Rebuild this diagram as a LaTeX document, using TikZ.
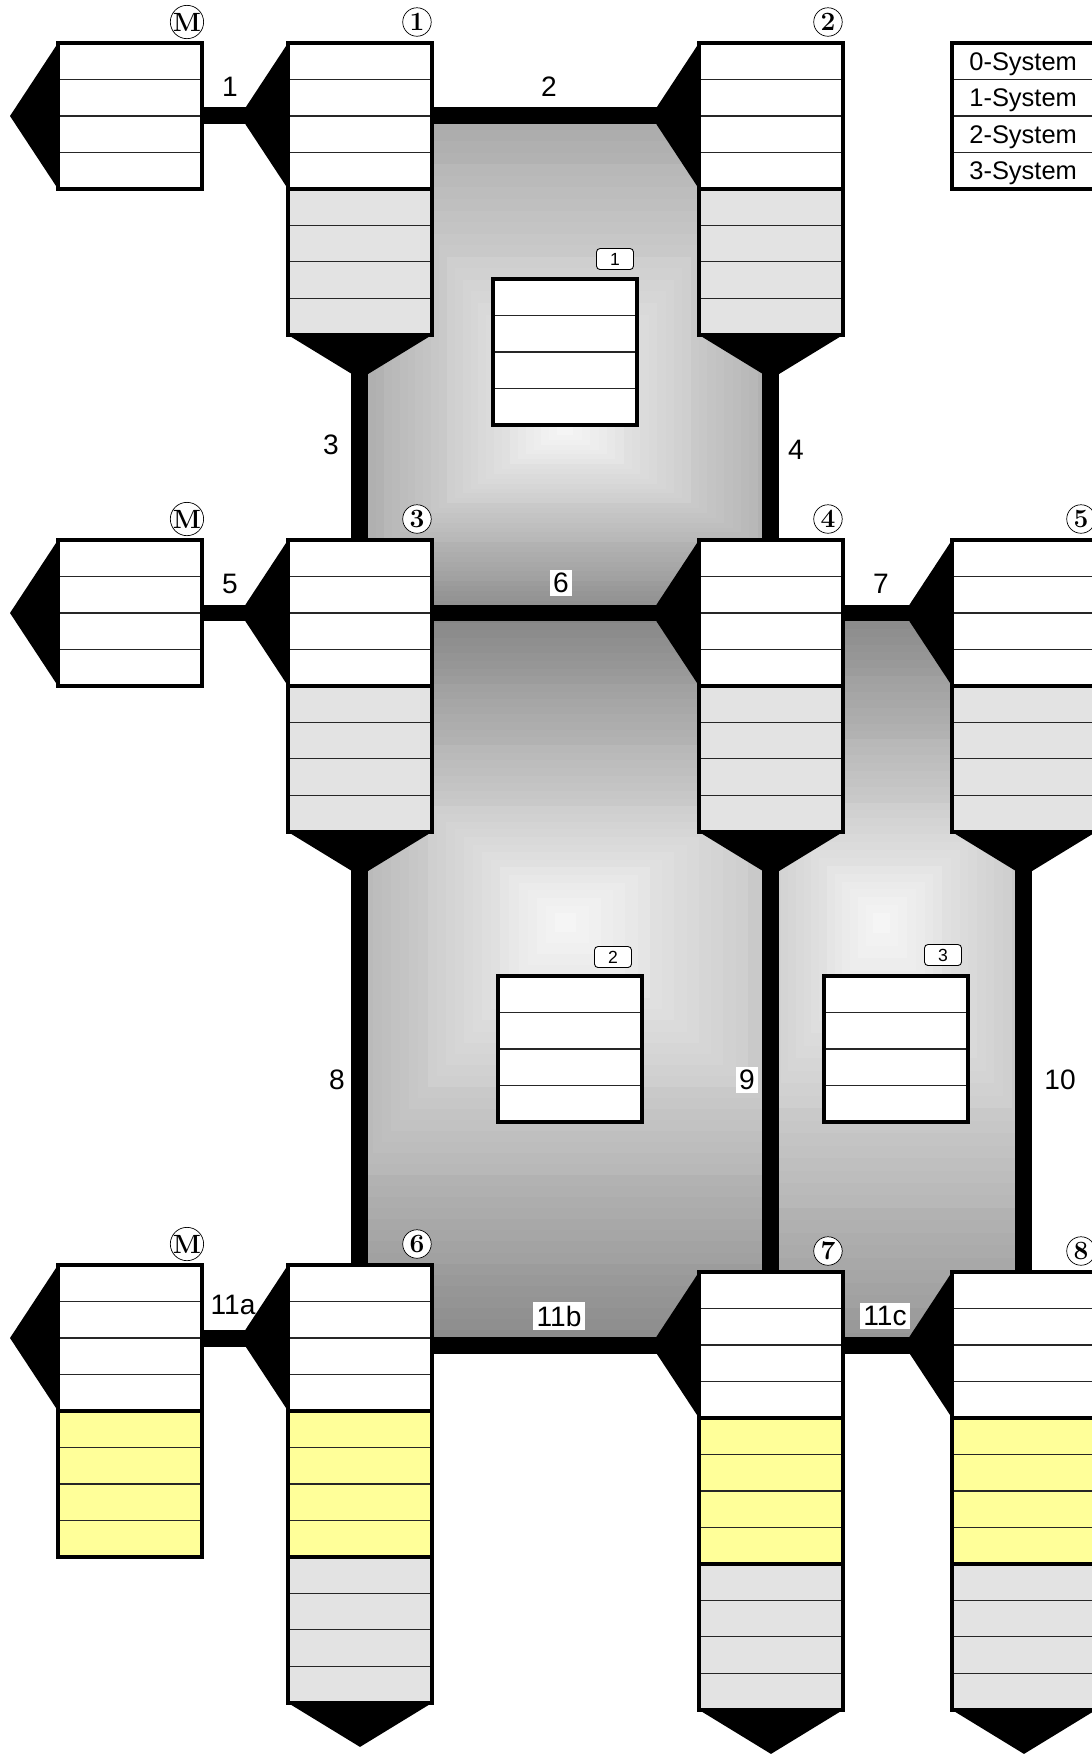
\documentclass[tikz,border=0pt]{standalone}
\usepackage{fontspec}
\newfontfamily\arial{Liberation Sans}
\usetikzlibrary{calc,positioning}
\definecolor{tankgray}{HTML}{E3E3E3}
\definecolor{tankyellow}{HTML}{FFFF99}
\tikzset{
  sect/.style={draw, line width=2.2pt, fill=white, outer sep=0pt, inner sep=0pt,
    minimum width=2.88cm, minimum height=2.92cm,
    path picture={\foreach \k in {1,2,3}
      \draw[line width=0.6pt, black!85]
        ($(path picture bounding box.north west)!\k/4!(path picture bounding box.south west)$) --
        ($(path picture bounding box.north east)!\k/4!(path picture bounding box.south east)$);}},
  pipe/.style={line width=0.34cm},
  numc/.style={circle, draw, fill=white, line width=0.4pt, minimum size=0.57cm, inner sep=0pt,
    font=\bfseries\fontsize{15}{15}\selectfont},
  tag/.style={draw, rounded corners=2pt, fill=white, line width=0.5pt, minimum width=0.74cm,
    minimum height=0.42cm, inner sep=0pt, font=\arial\fontsize{10}{12}\selectfont},
  plabel/.style={inner sep=2pt, font=\arial\fontsize{16}{18}\selectfont},
  wlabel/.style={plabel, fill=white},
  legtext/.style={anchor=base west, inner sep=0pt, font=\arial\fontsize{14.5}{16}\selectfont}
}
% concentric rectangles, dark at the outer box, light at the centre
\newcommand{\glow}[6]{%
  \foreach \i in {0,...,40}{%
    \pgfmathsetmacro{\glowt}{1-\i/40}%
    \pgfmathtruncatemacro{\glowc}{3+45*\glowt}%
    \fill[black!\glowc] ({#5+(#1-#5)*\glowt},{#6+(#2-#6)*\glowt}) rectangle
      ({#5+(#3-#5)*\glowt},{#6+(#4-#6)*\glowt});
  }}

\begin{document}
\begin{tikzpicture}[x=0.02cm,y=-0.02cm]
  \useasboundingbox (0,0) rectangle (1092,1756);

  % shaded areas
  \begin{scope}
    \clip (360,116.5) rectangle (771,613);
    \glow{250}{-32}{900}{625}{565}{430}
  \end{scope}
  \begin{scope}
    \clip (360,613) rectangle (771,1345);
    \glow{200}{615}{1054}{1363}{564}{921}
  \end{scope}
  \begin{scope}
    \clip (771,613) rectangle (1024,1345);
    \glow{572}{605}{1230}{1420}{881}{921}
  \end{scope}

  % first row
  \node[sect, anchor=north west] (m1) at (58,43) {};
  \node[sect, anchor=north west] (t1) at (288,43) {};
  \node[sect, fill=tankgray, below=0pt of t1] (t1g) {};
  \node[sect, anchor=north west] (t2) at (699,43) {};
  \node[sect, fill=tankgray, below=0pt of t2] (t2g) {};

  % second row
  \node[sect, anchor=north west] (m2) at (58,540) {};
  \node[sect, anchor=north west] (t3) at (288,540) {};
  \node[sect, fill=tankgray, below=0pt of t3] (t3g) {};
  \node[sect, anchor=north west] (t4) at (699,540) {};
  \node[sect, fill=tankgray, below=0pt of t4] (t4g) {};
  \node[sect, anchor=north west] (t5) at (952,540) {};
  \node[sect, fill=tankgray, below=0pt of t5] (t5g) {};

  % third row
  \node[sect, anchor=north west] (m3) at (58,1265) {};
  \node[sect, fill=tankyellow, below=0pt of m3] (m3y) {};
  \node[sect, anchor=north west] (t6) at (288,1265) {};
  \node[sect, fill=tankyellow, below=0pt of t6] (t6y) {};
  \node[sect, fill=tankgray, below=0pt of t6y] (t6g) {};
  \node[sect, anchor=north west] (t7) at (699,1272) {};
  \node[sect, fill=tankyellow, below=0pt of t7] (t7y) {};
  \node[sect, fill=tankgray, below=0pt of t7y] (t7g) {};
  \node[sect, anchor=north west] (t8) at (952,1272) {};
  \node[sect, fill=tankyellow, below=0pt of t8] (t8y) {};
  \node[sect, fill=tankgray, below=0pt of t8y] (t8g) {};

  % funnels
  \foreach \tk in {m1,t1,t2,m2,t3,t4,t5,m3,t6,t7,t8}
    \fill (\tk.north west) -- ++(-48,73) -- (\tk.south west) -- cycle;
  \foreach \tk in {t1g,t2g,t3g,t4g,t5g,t6g,t7g,t8g}
    \fill (\tk.south west) -- ++(72,44) -- (\tk.south east) -- cycle;

  % pipes
  \draw[pipe] (m1.east) -- (t1.west);
  \draw[pipe] (t1.east) -- (t2.west);
  \draw[pipe] (t1g.south) -- (t3.north);
  \draw[pipe] (t2g.south) -- (t4.north);
  \draw[pipe] (m2.east) -- (t3.west);
  \draw[pipe] (t3.east) -- (t4.west);
  \draw[pipe] (t4.east) -- (t5.west);
  \draw[pipe] (t3g.south) -- (t6.north);
  \draw[pipe] (t4g.south) -- (t7.north);
  \draw[pipe] (t5g.south) -- (t8.north);
  \draw[pipe] (m3.east) -- (t6.west);
  \draw[pipe] (t6.east |- t7.west) -- (t7.west);
  \draw[pipe] (t7.east) -- (t8.west);

  % inner boxes
  \node[sect, anchor=north west] (c1) at (493,279) {};
  \node[sect, anchor=north west] (c2) at (498,976) {};
  \node[sect, anchor=north west] (c3) at (824,976) {};
  \node[tag] (k1) at (615,259) {1};
  \node[tag] (k2) at (613,957) {2};
  \node[tag] (k3) at (943,955) {3};

  % circled numbers
  \foreach \tk/\n in {m1/M,t1/1,t2/2,m2/M,t3/3,t4/4,t5/5,m3/M,t6/6,t7/7,t8/8}
    \node[numc] (n\tk) at ([shift={(-15,-21)}]\tk.north east) {\n};

  % pipe labels
  \node[plabel] (p1) at (230,87) {1};
  \node[plabel] (p2) at (549,87) {2};
  \node[plabel] (p3) at (331,445) {3};
  \node[plabel] (p4) at (796,450) {4};
  \node[plabel] (p5) at (230,584) {5};
  \node[wlabel] (p6) at (561,583) {6};
  \node[plabel] (p7) at (881,584) {7};
  \node[plabel] (p8) at (337,1080) {8};
  \node[wlabel] (p9) at (747,1080) {9};
  \node[plabel] (p10) at (1060,1080) {10};
  \node[plabel] (p11a) at (233,1305) {11a};
  \node[wlabel] (p11b) at (559,1316) {11b};
  \node[wlabel] (p11c) at (885,1316) {11c};

  % legend
  \node[sect, anchor=north west] (leg) at (952,43) {};
  \foreach \k in {0,1,2,3}
    \node[legtext] (leg\k) at ([shift={(17,{27+36.5*\k})}]leg.north west) {\k-System};
\end{tikzpicture}
\end{document}
